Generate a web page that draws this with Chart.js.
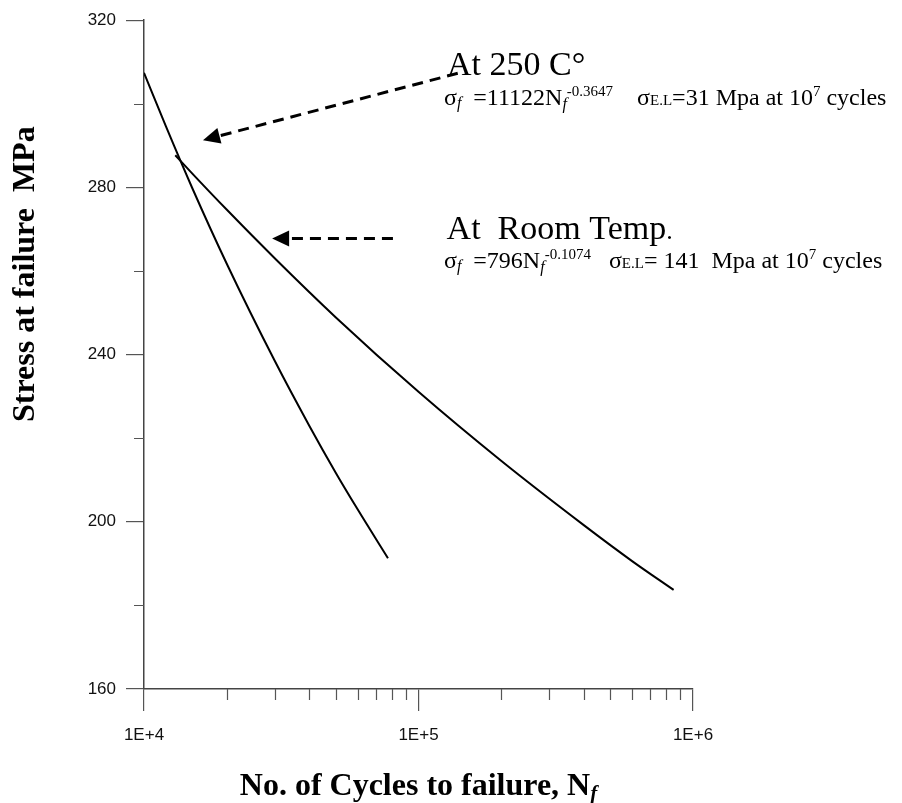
<!DOCTYPE html>
<html>
<head>
<meta charset="utf-8">
<script src="https://cdn.jsdelivr.net/npm/chart.js@4/dist/chart.umd.min.js"></script>
<style>
  html, body { margin: 0; padding: 0; background: #fff; }
  #box { width: 902px; height: 803px; }
</style>
</head>
<body>
<div id="box"><canvas id="c"></canvas></div>
<script>
// values
const cyclesHot = [10000, 12000, 15000, 20000, 30000, 40000, 50000, 60000, 77400];
const stressHot = [307.4, 294.7, 279.8, 261.8, 238.4, 223.0, 211.7, 203.0, 191.3];

const cyclesRoom = [13000, 15000, 20000, 30000, 50000, 100000, 200000, 400000, 600000, 850000];
const stressRoom = [287.7, 283.3, 274.7, 263.0, 248.9, 231.1, 214.6, 199.2, 190.6, 183.7];

const yTicks = [160, 180, 200, 220, 240, 260, 280, 300, 320];
const yTickLabels = [160, 200, 240, 280, 320];
const xTicks = [1e4, 2e4, 3e4, 4e4, 5e4, 6e4, 7e4, 8e4, 9e4,
                1e5, 2e5, 3e5, 4e5, 5e5, 6e5, 7e5, 8e5, 9e5, 1e6];
const xTickLabels = { 10000: "1E+4", 100000: "1E+5", 1000000: "1E+6" };

const SERIF = '"Liberation Serif", "Times New Roman", serif';
const SANS = '"Liberation Sans", Arial, sans-serif';

const isDecade = v => Number.isInteger(Math.log10(v));

// draw a row of text pieces with their own fonts / vertical shifts
function drawRuns(ctx, x, y, parts) {
  ctx.textAlign = "left";
  ctx.textBaseline = "alphabetic";
  for (const p of parts) {
    ctx.font = p.f;
    ctx.fillText(p.t, x, y + (p.dy || 0));
    x += ctx.measureText(p.t).width;
  }
  return x;
}

function dashedArrow(ctx, x0, y0, x1, y1) {
  const ang = Math.atan2(y1 - y0, x1 - x0);
  const headLen = 17, headW = 8;
  const bx = x1 - Math.cos(ang) * headLen;
  const by = y1 - Math.sin(ang) * headLen;
  ctx.save();
  ctx.strokeStyle = "#000";
  ctx.lineWidth = 3;
  ctx.setLineDash([11, 7]);
  ctx.beginPath();
  ctx.moveTo(x0, y0);
  ctx.lineTo(bx, by);
  ctx.stroke();
  ctx.setLineDash([]);
  ctx.fillStyle = "#000";
  ctx.beginPath();
  ctx.moveTo(x1, y1);
  ctx.lineTo(bx + Math.sin(ang) * headW, by - Math.cos(ang) * headW);
  ctx.lineTo(bx - Math.sin(ang) * headW, by + Math.cos(ang) * headW);
  ctx.closePath();
  ctx.fill();
  ctx.restore();
}

const extras = {
  id: "extras",
  afterDraw(chart) {
    const { ctx, chartArea: area, scales: { x, y } } = chart;
    ctx.save();

    // short minor ticks
    ctx.strokeStyle = "#555";
    ctx.lineWidth = 1.2;
    ctx.beginPath();
    xTicks.filter(v => !isDecade(v)).forEach(v => {
      const px = Math.round(x.getPixelForValue(v)) + 0.5;
      ctx.moveTo(px, area.bottom);
      ctx.lineTo(px, area.bottom + 11);
    });
    yTicks.filter(v => !yTickLabels.includes(v)).forEach(v => {
      const py = Math.round(y.getPixelForValue(v)) + 0.5;
      ctx.moveTo(area.left, py);
      ctx.lineTo(area.left - 10, py);
    });
    ctx.stroke();

    ctx.fillStyle = "#000";

    // axis titles
    const tFont = `bold 32px ${SERIF}`;
    const tSub = `bold italic 21px ${SERIF}`;
    const xt = "No. of Cycles to failure, N";
    ctx.font = tFont;
    const wMain = ctx.measureText(xt).width;
    ctx.font = tSub;
    const wSub = ctx.measureText("f").width;
    const sx = (area.left + area.right) / 2 - (wMain + wSub) / 2;
    drawRuns(ctx, sx, 795, [
      { t: xt, f: tFont },
      { t: "f", f: tSub, dy: 5 }
    ]);

    ctx.save();
    ctx.translate(34, 422);
    ctx.rotate(-Math.PI / 2);
    ctx.font = tFont;
    ctx.textAlign = "left";
    ctx.textBaseline = "alphabetic";
    ctx.fillText("Stress at failure  MPa", 0, 0);
    ctx.restore();

    // annotations, anchored in data space
    const px = v => x.getPixelForValue(v);
    const py = v => y.getPixelForValue(v);

    dashedArrow(ctx, px(139000), py(307.3), px(16400), py(291.3));
    dashedArrow(ctx, px(80700), py(267.8), px(29300), py(267.8));

    const big = `34px ${SERIF}`;
    const eq = `24px ${SERIF}`;
    const sm = `15px ${SERIF}`;
    const smi = `italic 16px ${SERIF}`;

    drawRuns(ctx, px(127000), py(306.9), [{ t: "At 250 C°", f: big }]);
    drawRuns(ctx, px(123800), py(299.8), [
      { t: "σ", f: eq }, { t: "f", f: smi, dy: 3 },
      { t: "  =11122N", f: eq }, { t: "f", f: smi, dy: 4 },
      { t: "-0.3647", f: sm, dy: -9 },
      { t: "    σ", f: eq }, { t: "E.L", f: sm },
      { t: "=31 Mpa at 10", f: eq }, { t: "7", f: sm, dy: -9 },
      { t: " cycles", f: eq }
    ]);

    drawRuns(ctx, px(126600), py(267.6), [
      { t: "At  Room Temp", f: big }, { t: ".", f: `26px ${SERIF}` }
    ]);
    drawRuns(ctx, px(123800), py(260.8), [
      { t: "σ", f: eq }, { t: "f", f: smi, dy: 3 },
      { t: "  =796N", f: eq }, { t: "f", f: smi, dy: 4 },
      { t: "-0.1074", f: sm, dy: -9 },
      { t: "   σ", f: eq }, { t: "E.L", f: sm },
      { t: "= 141  Mpa at 10", f: eq }, { t: "7", f: sm, dy: -9 },
      { t: " cycles", f: eq }
    ]);

    ctx.restore();
  }
};

const lineStyle = {
  borderColor: "#000",
  borderWidth: 2,
  pointRadius: 0,
  fill: false,
  cubicInterpolationMode: "monotone"
};

new Chart(document.getElementById("c"), {
  type: "line",
  data: {
    datasets: [
      { label: "At 250 C°", data: cyclesHot.map((n, i) => ({ x: n, y: stressHot[i] })), ...lineStyle },
      { label: "At Room Temp.", data: cyclesRoom.map((n, i) => ({ x: n, y: stressRoom[i] })), ...lineStyle }
    ]
  },
  options: {
    responsive: true,
    maintainAspectRatio: false,
    animation: false,
    layout: { padding: { top: 20, right: 209, left: 0, bottom: 0 } },
    plugins: { legend: { display: false }, tooltip: { enabled: false } },
    scales: {
      x: {
        type: "logarithmic",
        min: 1e4,
        max: 1e6,
        afterBuildTicks: s => { s.ticks = xTicks.map(v => ({ value: v, major: isDecade(v) })); },
        afterFit: s => { s.height = 114; },
        grid: {
          drawOnChartArea: false,
          tickLength: 22,
          lineWidth: 1.2,
          color: c => (c.tick && c.tick.major ? "#555" : "rgba(0,0,0,0)")
        },
        border: { color: "#444", width: 1.5 },
        ticks: {
          autoSkip: false,
          maxRotation: 0,
          padding: 14,
          color: "#111",
          font: { family: SANS, size: 17 },
          callback: v => xTickLabels[v] || ""
        }
      },
      y: {
        type: "linear",
        min: 160,
        max: 320,
        afterBuildTicks: s => { s.ticks = yTicks.map(v => ({ value: v, major: yTickLabels.includes(v) })); },
        afterFit: s => { s.width = 144; },
        grid: {
          drawOnChartArea: false,
          tickLength: 18,
          lineWidth: 1.2,
          color: c => (c.tick && c.tick.major ? "#555" : "rgba(0,0,0,0)")
        },
        border: { color: "#444", width: 1.5 },
        ticks: {
          padding: 10,
          color: "#111",
          font: { family: SANS, size: 17 },
          callback: v => (yTickLabels.includes(v) ? String(v) : "")
        }
      }
    }
  },
  plugins: [extras]
});
</script>
</body>
</html>
